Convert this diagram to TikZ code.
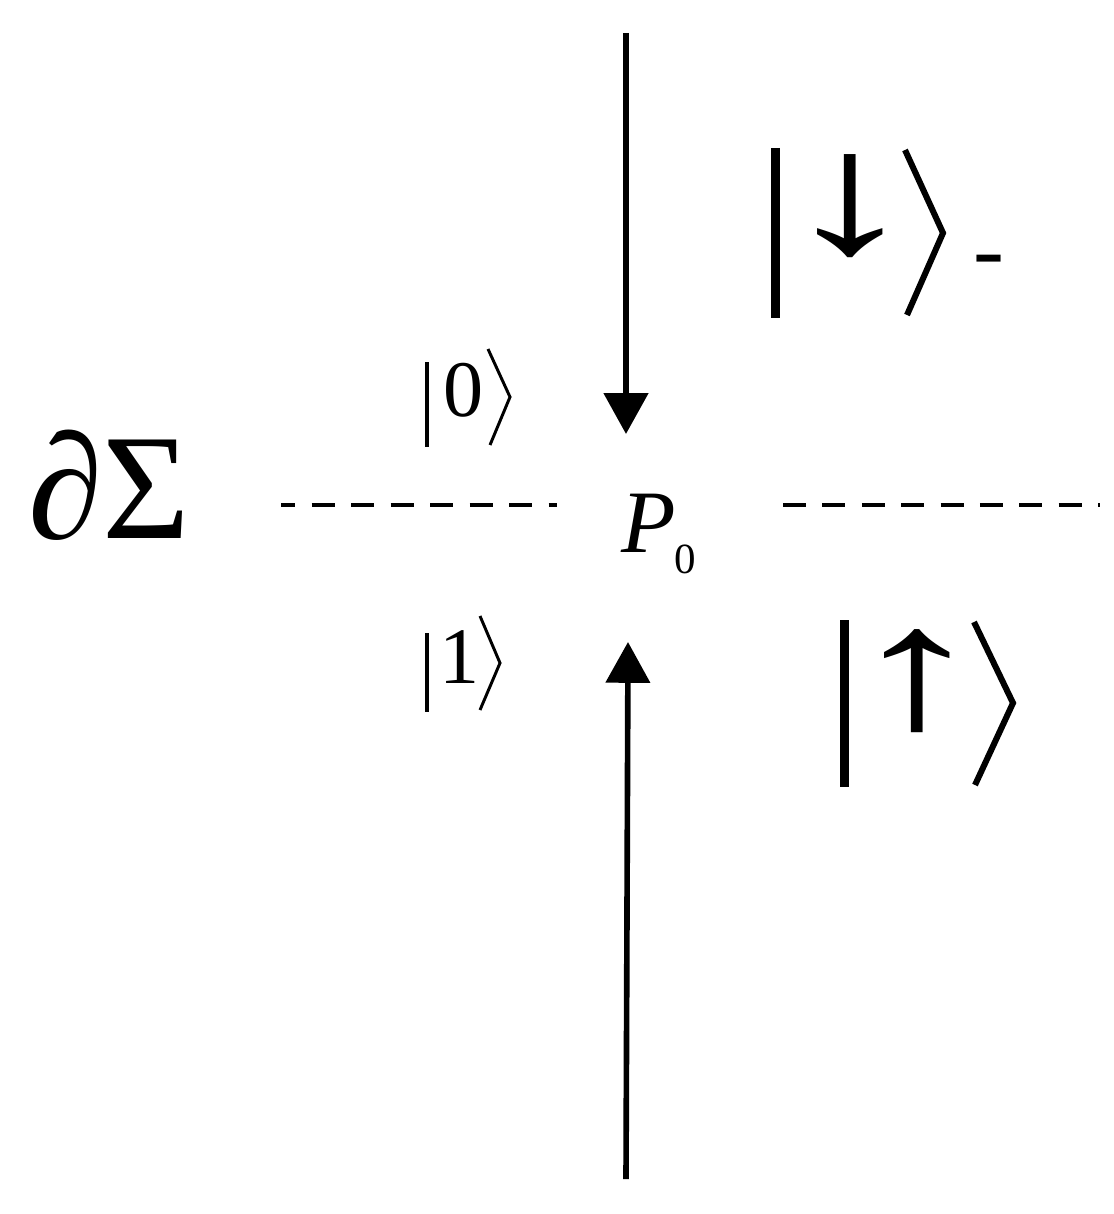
\documentclass[tikz,border=0pt]{standalone}
\usepackage{fontspec}
\usepackage{graphicx}
\setmainfont{Liberation Serif}
\usetikzlibrary{arrows.meta}
\begin{document}
\begin{tikzpicture}[x=0.025cm,y=-0.025cm,
  txt/.style={inner sep=0pt,outer sep=0pt,anchor=base west},
  mainarrow/.style={line width=4pt,-{Triangle[length=29pt,width=31pt]}},
  leftdash/.style={line width=2.4pt,dash pattern=on 16.4pt off 11.7pt,dash phase=6.4pt},
  rightdash/.style={line width=2.8pt,dash pattern=on 16.4pt off 11.6pt},
  bigbar/.style={line width=6.4pt},
  bigangle/.style={line width=4.3pt,line join=miter},
  smallbar/.style={line width=3.2pt},
  smallangle/.style={line width=2.1pt,line join=miter}]
\useasboundingbox (0,0) rectangle (1113,1214);
% boundary label
\node[txt,font=\fontsize{107pt}{110pt}\selectfont] (sigma) at (28,538) {{\itshape ∂}Σ};
% dashed boundary
\coordinate (dl1) at (281,505);
\coordinate (dl2) at (557,505);
\coordinate (dr1) at (783,505);
\coordinate (dr2) at (1100,505);
\draw[leftdash] (dl1) -- (dl2);
\draw[rightdash] (dr1) -- (dr2);
% point P0
\node[txt,font=\fontsize{63.4pt}{66pt}\selectfont\itshape] (P) at (621,552) {P};
\node[txt,font=\fontsize{30.6pt}{32pt}\selectfont] (Psub) at (674,573) {0};
% vertical arrows
\coordinate (topstart) at (626,33);
\coordinate (toptip) at (626,434);
\coordinate (botstart) at (626,1179);
\coordinate (bottip) at (628,642);
\draw[mainarrow] (topstart) -- (toptip);
\draw[mainarrow] (botstart) -- (bottip);
% ket |0>
\draw[smallbar] (427,362) -- (427,447);
\node[txt,font=\fontsize{57pt}{60pt}\selectfont] (zero) at (443,416) {0};
\draw[smallangle] (488,349) -- (510,397) -- (490,445);
% ket |1>
\draw[smallbar] (427,633) -- (427,712);
\node[txt,font=\fontsize{57pt}{60pt}\selectfont] (one) at (439,683) {1};
\draw[smallangle] (480,616) -- (500,663) -- (480,710);
% ket |down>_-
\draw[bigbar] (775,148) -- (775,318);
\node[inner sep=0pt,outer sep=0pt] (down) at (850,206.5) {\scalebox{1.6}[1]{\resizebox*{!}{73.3pt}{↓}}};
\draw[bigangle] (905,150) -- (943,233) -- (907,315);
\node[txt,font=\fontsize{66pt}{68pt}\selectfont] (minus) at (973,281) {-};
% ket |up>
\draw[bigbar] (844,620) -- (844,787);
\node[inner sep=0pt,outer sep=0pt] (up) at (917,681.5) {\scalebox{1.6}[1]{\resizebox*{!}{73.3pt}{↑}}};
\draw[bigangle] (974,622) -- (1013,703) -- (975,785);
\end{tikzpicture}
\end{document}
